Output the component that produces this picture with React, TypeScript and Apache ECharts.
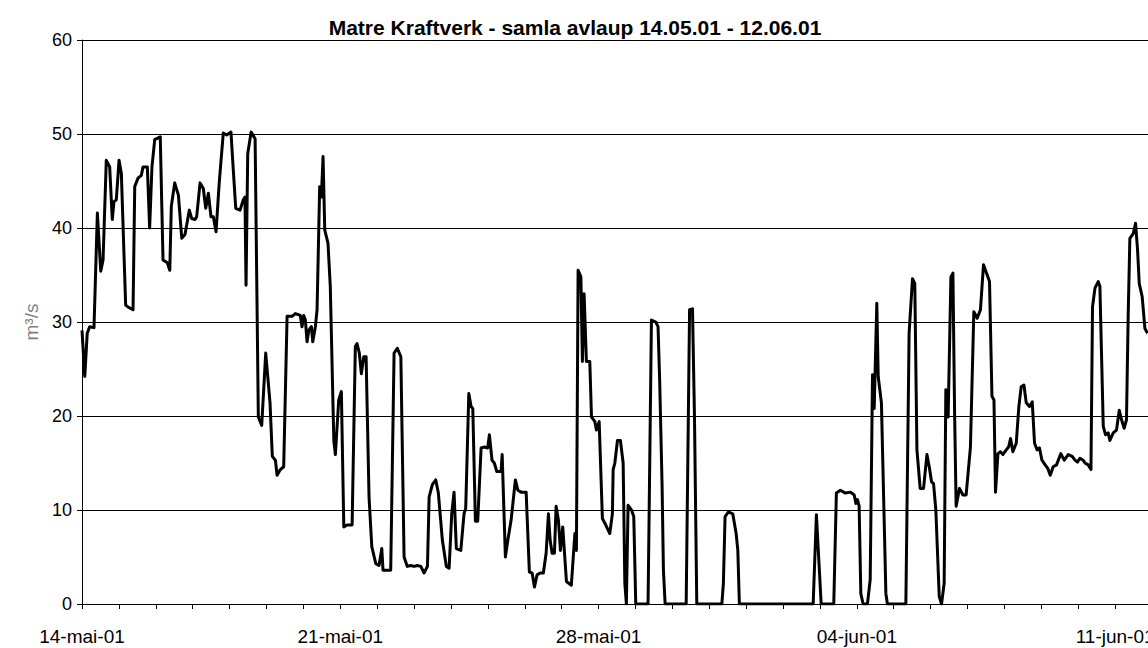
import React, { useEffect, useRef } from "react";
import * as echarts from "echarts";

// hours since 14-mai-01 00:00
const hours = [
  0.0, 1.8, 3.4, 5.0, 7.8, 10.0, 12.2, 13.7, 15.8, 18.0, 19.7, 20.8, 22.3, 24.1, 25.6, 28.4, 29.9, 33.2, 34.3, 36.4,
  38.6, 39.7, 42.5, 44.0, 45.5, 47.3, 50.9, 52.7, 55.5, 57.1, 58.1, 60.3, 62.7, 64.9, 67.0, 69.8, 71.4, 73.5, 74.6, 76.8,
  78.9, 80.5, 82.2, 83.9, 85.4, 87.2, 89.3, 91.9, 94.1, 96.9, 98.4, 100.0, 102.8, 104.9, 106.0, 106.7, 107.8, 110.0, 112.6, 114.7,
  116.9, 119.5, 122.3, 123.8, 125.8, 126.9, 129.0, 131.2, 133.4, 136.6, 138.8, 142.0, 143.1, 144.2, 145.3, 146.4, 147.5, 149.2, 150.1, 151.8,
  152.9, 154.6, 155.7, 156.8, 157.9, 160.0, 161.5, 163.8, 164.8, 167.0, 168.7, 170.3, 172.4, 175.7, 177.8, 178.9, 180.4, 181.7, 183.3, 184.8,
  186.7, 188.5, 191.1, 193.2, 195.0, 195.8, 200.8, 203.0, 205.1, 207.4, 209.5, 211.6, 213.9, 216.0, 218.1, 220.4, 222.5, 224.7, 225.8, 227.9,
  230.1, 231.8, 234.4, 237.0, 238.8, 240.5, 242.0, 243.5, 246.4, 248.5, 249.6, 251.6, 253.1, 254.2, 255.9, 257.4, 259.6, 261.7, 263.9, 265.0,
  266.7, 268.2, 269.8, 272.6, 273.3, 275.4, 277.0, 279.1, 281.9, 283.5, 285.6, 288.9, 291.0, 292.8, 294.3, 296.0, 298.0, 300.1, 301.9, 303.4,
  304.5, 305.8, 307.3, 308.4, 309.9, 311.2, 312.7, 315.1, 318.3, 320.6, 321.6, 322.7, 324.5, 325.5, 326.6, 328.1, 330.3, 331.4, 333.6, 334.6,
  336.4, 338.5, 340.7, 343.3, 345.0, 345.5, 346.6, 348.3, 350.2, 352.0, 353.1, 354.1, 355.2, 357.4, 358.9, 360.2, 368.2, 370.4, 373.2, 374.7,
  375.8, 377.3, 378.2, 379.3, 393.0, 395.2, 397.1, 398.4, 399.9, 416.2, 417.2, 418.3, 420.5, 423.3, 425.5, 426.6, 427.6, 475.6, 477.7, 480.8,
  489.0, 490.7, 493.3, 496.6, 499.9, 502.3, 503.4, 504.4, 505.5, 506.6, 508.1, 510.9, 512.7, 514.2, 515.3, 517.0, 517.9, 520.0, 522.9, 523.9,
  535.9, 538.0, 540.2, 541.7, 543.1, 545.2, 547.4, 549.6, 551.1, 552.6, 553.9, 555.4, 557.6, 559.1, 560.8, 561.9, 563.4, 565.2, 566.5, 567.6,
  568.6, 570.8, 573.0, 575.1, 577.9, 580.1, 582.3, 584.4, 586.4, 588.8, 590.3, 591.9, 593.2, 594.2, 595.8, 597.4, 599.0, 601.2, 602.7, 604.0,
  605.5, 607.7, 609.4, 610.9, 612.7, 614.2, 616.3, 618.1, 619.6, 621.3, 622.8, 624.4, 626.5, 628.3, 629.8, 631.7, 633.9, 636.7, 638.9, 641.5,
  644.1, 645.9, 647.5, 649.1, 651.2, 652.4, 654.5, 656.3, 657.3, 658.9, 661.0, 662.1, 664.3, 665.8, 667.5, 668.6, 670.8, 672.9, 674.7, 676.2,
  677.9, 679.4, 680.5, 681.6, 683.8, 685.3, 686.6, 687.7, 689.6, 691.4, 693.1,
];

// samla avlaup, m³/s
const flow = [
  29.1, 24.2, 28.8, 29.5, 29.4, 41.6, 35.4, 36.6, 47.2, 46.5, 40.9, 42.8, 43.0, 47.2, 45.8, 31.8, 31.6, 31.3, 44.4, 45.3,
  45.6, 46.5, 46.5, 40.0, 46.5, 49.4, 49.7, 36.6, 36.3, 35.5, 42.3, 44.8, 43.5, 38.9, 39.3, 41.9, 41.0, 40.9, 41.2, 44.8,
  44.2, 42.1, 43.7, 41.2, 41.2, 39.6, 44.9, 50.1, 49.9, 50.2, 46.2, 42.1, 41.9, 43.0, 43.3, 33.9, 47.9, 50.2, 49.5, 19.9,
  19.0, 26.7, 21.4, 15.7, 15.3, 13.7, 14.3, 14.6, 30.6, 30.6, 30.9, 30.7, 29.5, 30.7, 30.2, 27.9, 29.1, 29.5, 27.9, 29.5,
  31.3, 44.4, 43.3, 47.6, 39.8, 38.4, 33.8, 17.4, 15.9, 21.7, 22.6, 8.2, 8.4, 8.4, 27.4, 27.7, 26.7, 24.5, 26.3, 26.3,
  11.4, 6.1, 4.3, 4.1, 5.9, 3.6, 3.6, 26.7, 27.2, 26.3, 5.0, 4.0, 4.1, 4.0, 4.1, 4.0, 3.3, 4.0, 11.4, 12.7,
  13.2, 11.8, 6.8, 4.0, 3.8, 9.6, 11.9, 5.9, 5.7, 9.6, 10.2, 22.4, 21.0, 20.8, 8.8, 8.8, 16.6, 16.7, 16.6, 18.0,
  15.3, 15.0, 14.1, 14.1, 15.9, 5.0, 6.8, 8.9, 13.2, 12.1, 11.9, 11.9, 3.4, 3.3, 1.8, 3.1, 3.3, 3.3, 5.4, 9.6,
  6.8, 5.4, 5.4, 10.4, 8.9, 5.7, 8.2, 2.4, 2.0, 7.5, 5.7, 35.5, 34.8, 25.8, 33.0, 25.8, 25.8, 19.9, 19.4, 18.5,
  19.4, 9.1, 8.4, 7.5, 9.6, 14.3, 15.0, 17.4, 17.4, 15.0, 2.2, 0, 10.5, 10.0, 9.3, 0, 0, 30.2, 30.0, 29.5,
  23.5, 12.8, 3.6, 0, 0, 31.3, 31.4, 19.9, 0, 0, 2.2, 9.3, 9.8, 9.6, 7.5, 5.7, 0, 0, 9.5, 0,
  0, 11.8, 12.1, 11.8, 11.9, 11.6, 10.7, 11.1, 10.4, 1.1, 0, 0, 2.6, 24.4, 20.8, 32.0, 24.2, 21.4, 1.1, 0,
  0, 28.8, 34.6, 34.1, 16.4, 12.3, 12.3, 15.9, 14.6, 13.0, 12.8, 10.0, 0.8, 0, 2.2, 22.8, 19.9, 34.8, 35.2, 20.3,
  10.4, 12.3, 11.6, 11.6, 16.7, 31.1, 30.4, 31.3, 36.1, 35.0, 34.3, 22.1, 21.7, 11.9, 16.0, 16.2, 15.9, 16.4, 16.7, 17.6,
  16.2, 17.1, 21.0, 23.1, 23.3, 21.4, 21.0, 21.5, 17.1, 16.4, 16.6, 15.3, 14.8, 14.4, 13.7, 14.6, 14.8, 16.0, 15.3, 15.9,
  15.7, 15.3, 15.1, 15.5, 15.3, 15.0, 14.8, 14.3, 31.6, 33.6, 34.3, 33.8, 18.9, 18.0, 18.2, 17.4, 18.2, 18.5, 20.6, 19.6,
  18.7, 19.6, 30.6, 38.9, 39.4, 40.5, 37.7, 34.1, 32.7, 29.3, 28.8,
];

// one label per week, every 168 hours
const weekLabels = ["14-mai-01", "21-mai-01", "28-mai-01", "04-jun-01", "11-jun-01"];

const TITLE = "Matre Kraftverk - samla avlaup 14.05.01 - 12.06.01";
const Y_NAME = "m³/s";

export default function App() {
  const ref = useRef<HTMLDivElement>(null);

  useEffect(() => {
    if (!ref.current) return;
    const chart = echarts.init(ref.current, null, { renderer: "svg" });
    const data = hours.map((h, i) => [h, flow[i]]);
    const font = "Arial, 'Liberation Sans', sans-serif";
    chart.setOption({
      animation: false,
      backgroundColor: "#ffffff",
      title: {
        text: TITLE,
        left: 570,
        top: 12,
        textAlign: "center",
        textStyle: { fontFamily: font, fontWeight: "bold", fontSize: 21, color: "#000" },
      },
      grid: { left: 82, top: 40, right: 8, bottom: 44, containLabel: false },
      xAxis: {
        type: "value",
        min: 0,
        max: 696,
        interval: 24,
        axisLine: { show: true, lineStyle: { color: "#000", width: 1 } },
        axisTick: { show: true, length: 5, lineStyle: { color: "#000" } },
        splitLine: { show: false },
        axisLabel: {
          margin: 23,
          fontFamily: font,
          fontSize: 19,
          color: "#000",
          showMaxLabel: false,
          formatter: (v: number) => (v % 168 === 0 ? weekLabels[v / 168] ?? "" : ""),
        },
      },
      yAxis: {
        type: "value",
        min: 0,
        max: 60,
        interval: 10,
        name: Y_NAME,
        nameLocation: "middle",
        nameRotate: 90,
        nameGap: 32,
        nameTextStyle: { fontFamily: font, fontSize: 19, color: "#808080" },
        axisLine: { show: true, lineStyle: { color: "#000", width: 1 } },
        axisTick: { show: true, length: 5, lineStyle: { color: "#000" } },
        splitLine: { show: true, lineStyle: { color: "#000", width: 1 } },
        axisLabel: { margin: 10, fontFamily: font, fontSize: 18, color: "#000" },
      },
      series: [
        {
          type: "line",
          data,
          showSymbol: false,
          symbol: "none",
          lineStyle: { color: "#000", width: 3, join: "round" },
          clip: true,
        },
      ],
    });
    return () => chart.dispose();
  }, []);

  return (
    <div style={{ position: "fixed", left: 0, top: 0, width: 1148, height: 648, overflow: "hidden", background: "#fff" }}>
      <div ref={ref} style={{ width: 1160, height: 648 }} />
    </div>
  );
}
